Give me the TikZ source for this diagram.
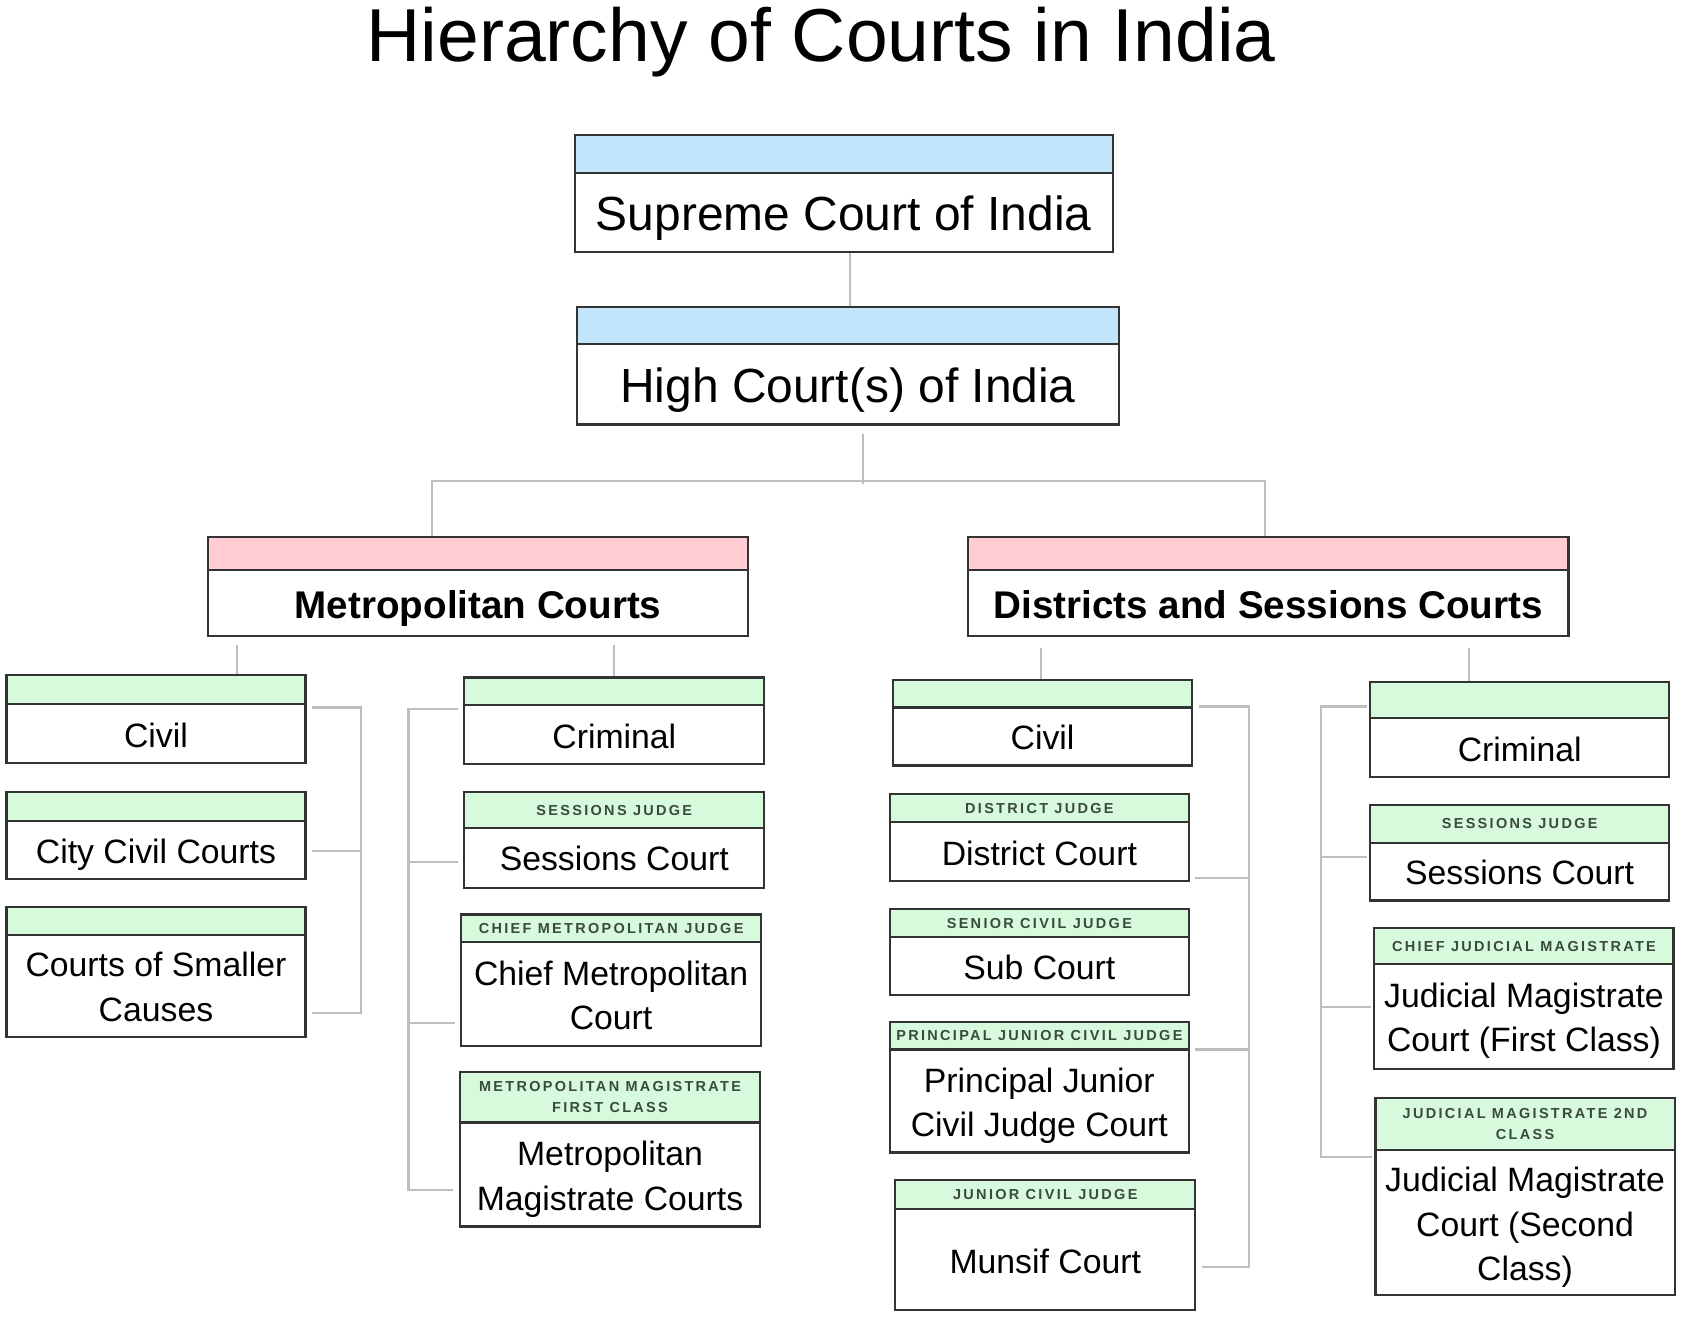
\documentclass[tikz,border=0pt]{standalone}
\usepackage{fontspec}
\setmainfont{Liberation Sans}
\newfontfamily\hdrfont[LetterSpace=16]{Liberation Sans}
\usetikzlibrary{fit,calc}
\definecolor{hblue}{RGB}{194,229,252}
\definecolor{hpink}{RGB}{255,205,211}
\definecolor{hgreen}{RGB}{214,250,219}
\definecolor{bord}{RGB}{51,51,51}
\definecolor{conng}{RGB}{190,190,190}
\definecolor{hdrtxt}{RGB}{58,74,60}
\tikzset{
  boxframe/.style={draw=bord, line width=2pt, inner sep=0pt},
  conn/.style={draw=conng, line width=2pt},
  hdrtext/.style={font=\hdrfont\bfseries\fontsize{13.5}{19.5}\selectfont, text=hdrtxt, align=center, inner sep=0pt, text depth=0pt},
  bodytext/.style={font=\fontsize{31.5}{41.5}\selectfont, align=center, inner sep=0pt, text depth=0pt},
  bigtext/.style={font=\fontsize{44.7}{50}\selectfont, align=center, inner sep=0pt, text depth=0pt},
  midtext/.style={font=\bfseries\fontsize{36}{42}\selectfont, align=center, inner sep=0pt, text depth=0pt},
  top fill/.style={fill=hblue}, top body/.style={bigtext},
  mid fill/.style={fill=hpink}, mid body/.style={midtext},
  low fill/.style={fill=hgreen}, low body/.style={bodytext},
}
% #1 name, #2 x1, #3 y1, #4 x2, #5 y2, #6 header bottom, #7 kind, #8 header text, #9 body text
\newcommand{\courtbox}[9]{%
  \fill[#7 fill] (#2,#3) rectangle (#4,#6);
  \draw[draw=bord, line width=2pt] (#2,#6) -- (#4,#6);
  \node[boxframe, fit={(#2,#3)(#4,#5)}] (#1) {};
  \node[hdrtext] (#1-h) at ({(#2+#4)/2},{(#3+#6)/2}) {#8};
  \node[#7 body] (#1-b) at ({(#2+#4)/2},{(#6+#5)/2+1}) {#9};
}
\begin{document}
\begin{tikzpicture}[x=1pt,y=-1pt]
\useasboundingbox (0,0) rectangle (1568,1228);
\fill[white] (0,0) rectangle (1568,1228);

\node[font=\fontsize{70}{80}\selectfont, anchor=base, inner sep=0pt] (title) at (766,57) {Hierarchy of Courts in India};

% top level
\courtbox{sc}{536}{126}{1038}{235}{161}{top}{}{Supreme Court of India}
\courtbox{hc}{538}{286}{1044}{396}{321}{top}{}{High Court(s) of India}
\courtbox{mc}{194}{501}{698}{593}{532}{mid}{}{Metropolitan Courts}
\courtbox{dc}{903}{501}{1463}{593}{532}{mid}{}{Districts and Sessions Courts}

% metropolitan civil
\courtbox{mciv}{6}{630}{285}{712}{657}{low}{}{Civil}
\courtbox{mcity}{6}{739}{285}{820}{766}{low}{}{City Civil Courts}
\courtbox{msmall}{6}{846}{285}{967}{872}{low}{}{Courts of Smaller\\Causes}

% metropolitan criminal
\courtbox{mcrim}{433}{632}{713}{713}{658}{low}{}{Criminal}
\courtbox{msess}{433}{739}{713}{828}{772}{low}{SESSIONS JUDGE}{Sessions Court}
\courtbox{mcmc}{430}{853}{710}{976}{879}{low}{CHIEF METROPOLITAN JUDGE}{Chief Metropolitan\\Court}
\courtbox{mmmc}{429}{1000}{709}{1144}{1047}{low}{METROPOLITAN MAGISTRATE\\FIRST CLASS}{Metropolitan\\Magistrate Courts}

% district civil
\courtbox{dciv}{833}{634}{1112}{714}{660}{low}{}{Civil}
\courtbox{ddist}{830}{741}{1109}{822}{767}{low}{DISTRICT JUDGE}{District Court}
\courtbox{dsub}{830}{848}{1109}{928}{874}{low}{SENIOR CIVIL JUDGE}{Sub Court}
\courtbox{dpjc}{830}{953}{1109}{1075}{979}{low}{PRINCIPAL JUNIOR CIVIL JUDGE}{Principal Junior\\Civil Judge Court}
\courtbox{dmun}{835}{1101}{1115}{1222}{1128}{low}{JUNIOR CIVIL JUDGE}{Munsif Court}

% district criminal
\courtbox{dcrim}{1278}{636}{1557}{725}{670}{low}{}{Criminal}
\courtbox{dsess}{1278}{751}{1557}{840}{786}{low}{SESSIONS JUDGE}{Sessions Court}
\courtbox{djma}{1282}{866}{1561}{997}{899}{low}{CHIEF JUDICIAL MAGISTRATE}{Judicial Magistrate\\Court (First Class)}
\courtbox{djmb}{1283}{1024}{1562}{1208}{1073}{low}{JUDICIAL MAGISTRATE 2ND\\CLASS}{Judicial Magistrate\\Court (Second\\Class)}

% connector start points
\coordinate (scout) at ($(sc.south)+(6,0)$);
\coordinate (mcoutA) at ($(mc.south west)+(28,8)$);
\coordinate (mcoutB) at ($(mc.south west)+(380,8)$);
\coordinate (dcoutA) at ($(dc.south west)+(69,10)$);
\coordinate (dcoutB) at ($(dc.south west)+(468,10)$);

% connectors: top
\draw[conn] (scout) -- (scout |- hc.north);
\draw[conn] ($(hc.south)+(14,8)$) -- ($(hc.south)+(14,54)$);
\draw[conn] ($(mc.north west)+(210,0)$) |- ($(dc.north west)+(278,-51)$) -- ($(dc.north west)+(278,0)$);

% connectors: second level
\draw[conn] (mcoutA) -- (mcoutA |- mciv.north);
\draw[conn] (mcoutB) -- (mcoutB |- mcrim.north);
\draw[conn] (dcoutA) -- (dcoutA |- dciv.north);
\draw[conn] (dcoutB) -- (dcoutB |- dcrim.north);

% brackets: metropolitan civil
\draw[conn] ($(mciv.north east)+(5,31)$) -| ($(msmall.north east)+(51,100)$) -- ($(msmall.north east)+(5,100)$);
\draw[conn] ($(mcity.north east)+(5,56)$) -- ($(mcity.north east)+(51,56)$);

% brackets: metropolitan criminal
\draw[conn] ($(mcrim.north west)+(-5,30)$) -| ($(mmmc.north west)+(-47,111)$) -- ($(mmmc.north west)+(-5,111)$);
\draw[conn] ($(msess.north west)+(-5,66)$) -- ($(msess.north west)+(-51,66)$);
\draw[conn] ($(mcmc.north west)+(-5,102)$) -- ($(mcmc.north west)+(-48,102)$);

% brackets: district civil
\draw[conn] ($(dciv.north east)+(5,26)$) -| ($(dmun.north east)+(49,82)$) -- ($(dmun.north east)+(5,82)$);
\draw[conn] ($(ddist.north east)+(5,79)$) -- ($(ddist.north east)+(55,79)$);
\draw[conn] ($(dpjc.north east)+(5,27)$) -- ($(dpjc.north east)+(55,27)$);

% brackets: district criminal
\draw[conn] ($(dcrim.north west)+(-2,24)$) -| ($(djmb.north west)+(-50,56)$) -- ($(djmb.north west)+(-2,56)$);
\draw[conn] ($(dsess.north west)+(-2,49)$) -- ($(dsess.north west)+(-45,49)$);
\draw[conn] ($(djma.north west)+(-2,74)$) -- ($(djma.north west)+(-49,74)$);
\end{tikzpicture}
\end{document}
